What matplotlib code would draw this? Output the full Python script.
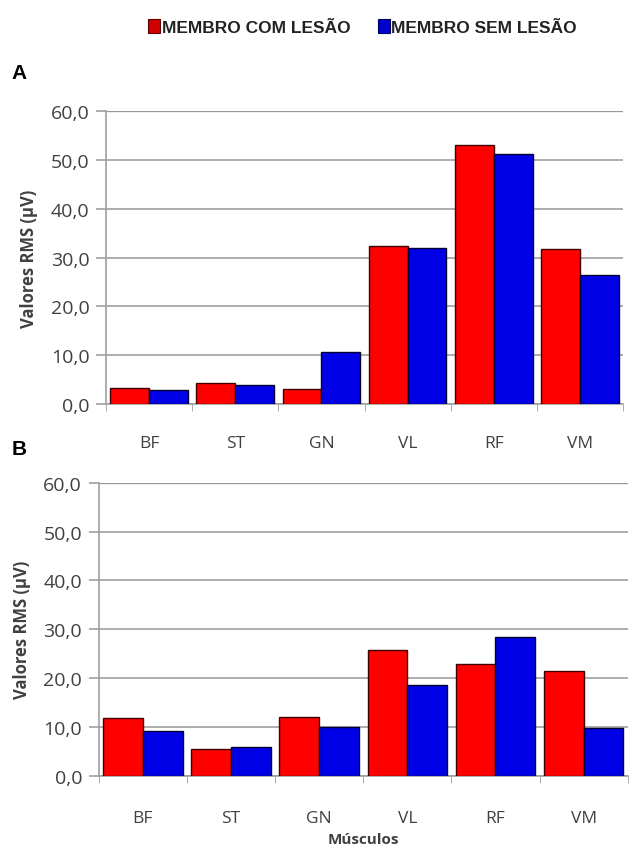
import numpy as np
import matplotlib.pyplot as plt

musculos = ["BF", "ST", "GN", "VL", "RF", "VM"]
a_com = [3.3, 4.3, 3.1, 32.4, 53.1, 31.8]
a_sem = [2.9, 3.9, 10.7, 32.0, 51.3, 26.5]
b_com = [11.8, 5.5, 12.0, 25.8, 22.9, 21.5]
b_sem = [9.2, 5.9, 9.9, 18.6, 28.4, 9.8]
y_ticks = [0, 10, 20, 30, 40, 50, 60]

RED = "#ff0000"
BLUE = "#0000e6"
TXT = "#404040"
GRID = "#a0a0a0"


def painel(ax, com, sem):
    x = np.arange(len(musculos))
    w = 0.45
    ax.bar(x - w / 2, com, w, color=RED, edgecolor="#400000", linewidth=1.0, zorder=3)
    ax.bar(x + w / 2, sem, w, color=BLUE, edgecolor="#000033", linewidth=1.0, zorder=3)
    ax.set_xlim(-0.5, len(musculos) - 0.5)
    ax.set_ylim(0, 60)
    ax.set_yticks(y_ticks)
    ax.set_yticklabels([f"{v:.1f}".replace(".", ",") for v in y_ticks],
                       fontsize=14, color=TXT, family="Open Sans")
    ax.yaxis.grid(True, color=GRID, linewidth=1.2, zorder=0)
    ax.axhline(60, color="#707070", linewidth=1.6, zorder=1)
    ax.set_xticks(x)
    ax.set_xticklabels(musculos, fontsize=12.5, color=TXT, family="Open Sans")
    ax.set_xticks(np.arange(len(musculos) + 1) - 0.5, minor=True)
    ax.tick_params(axis="x", which="major", length=0, pad=22)
    ax.tick_params(axis="x", which="minor", length=5, color=GRID, direction="out")
    ax.tick_params(axis="y", length=7, color=GRID, width=1.2, pad=5)
    for s in ["top", "right"]:
        ax.spines[s].set_visible(False)
    for s in ["left", "bottom"]:
        ax.spines[s].set_color(GRID)
        ax.spines[s].set_linewidth(1.2)
    ax.set_ylabel("Valores RMS (μV)", fontsize=12, fontweight="bold", color=TXT,
                  family="Open Sans", labelpad=9)


fig = plt.figure(figsize=(6.29, 8.54), dpi=100)
ax1 = fig.add_axes([0.1685, 0.5258, 0.822, 0.343])
ax2 = fig.add_axes([0.157, 0.0905, 0.841, 0.343])
painel(ax1, a_com, a_sem)
painel(ax2, b_com, b_sem)
ax2.tick_params(axis="x", which="major", pad=25)
ax2.set_xlabel("Músculos", fontsize=11, fontweight="bold", color=TXT,
               family="Open Sans", labelpad=4)

fig.text(0.018, 0.908, "A", fontsize=15, fontweight="bold", family="Liberation Sans")
fig.text(0.018, 0.467, "B", fontsize=15, fontweight="bold", family="Liberation Sans")

# legenda
fig.patches.append(plt.Rectangle((0.236, 0.960), 0.019, 0.016, transform=fig.transFigure,
                                 facecolor="#d00000", edgecolor="#600000", linewidth=0.8))
fig.text(0.257, 0.967, "MEMBRO COM LESÃO", fontsize=12.5, fontweight="bold",
         family="Liberation Sans", color="#222222", va="center")
fig.patches.append(plt.Rectangle((0.601, 0.960), 0.019, 0.016, transform=fig.transFigure,
                                 facecolor="#0000cc", edgecolor="#000060", linewidth=0.8))
fig.text(0.622, 0.967, "MEMBRO SEM LESÃO", fontsize=12.5, fontweight="bold",
         family="Liberation Sans", color="#222222", va="center")

fig.savefig("out.png", dpi=100)
